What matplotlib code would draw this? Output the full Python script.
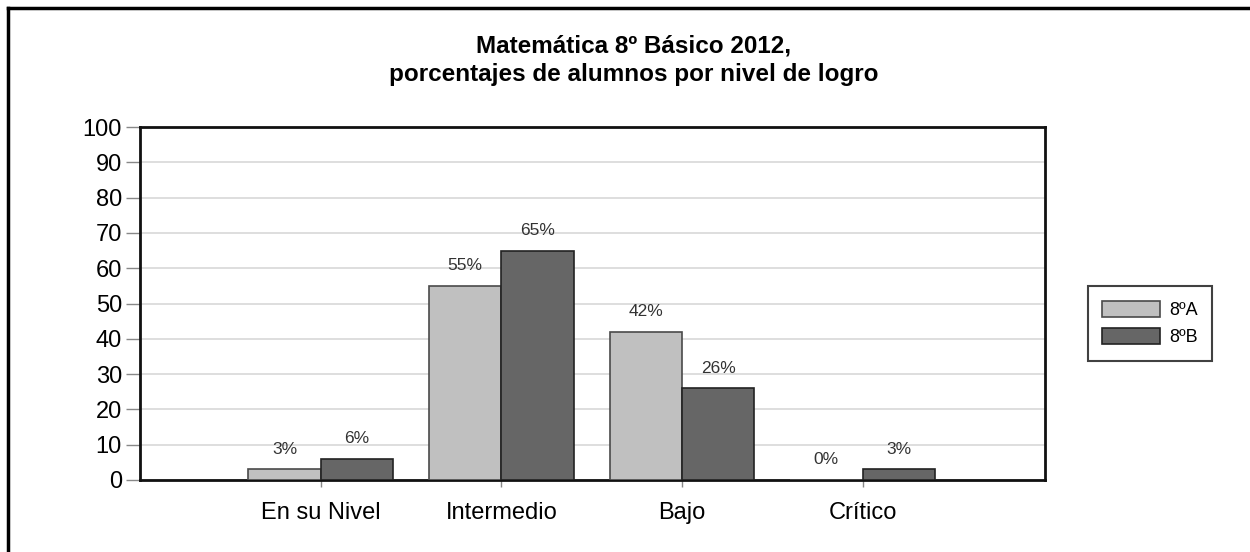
import numpy as np
import matplotlib.pyplot as plt
from matplotlib.lines import Line2D

plt.rcParams['font.family'] = ['Liberation Sans', 'DejaVu Sans']

categorias = ['En su Nivel', 'Intermedio', 'Bajo', 'Crítico']
curso_a = [3, 55, 42, 0]
curso_b = [6, 65, 26, 3]
etiquetas = ['8ºA', '8ºB']

fig = plt.figure(figsize=(12.5, 5.52), dpi=100)
ax = fig.add_axes([140/1250, 1 - 480/552, 905/1250, 353/552])

x = np.arange(len(categorias))
w = 0.4
b1 = ax.bar(x - w/2, curso_a, w, color='#c0c0c0', edgecolor='#4a4a4a', linewidth=1.2, label=etiquetas[0], zorder=3)
b2 = ax.bar(x + w/2, curso_b, w, color='#666666', edgecolor='#222222', linewidth=1.2, label=etiquetas[1], zorder=3)

# etiquetas de porcentaje sobre cada barra
for bars, vals in ((b1, curso_a), (b2, curso_b)):
    for r, v in zip(bars, vals):
        ax.annotate(f'{v}%', (r.get_x() + r.get_width()/2, v), xytext=(0, 9),
                    textcoords='offset points', ha='center', va='bottom',
                    fontsize=12.5, color='#333333')

ax.set_xlim(-1, 4.01)
ax.set_ylim(0, 100)
ax.set_yticks(range(0, 101, 10))
ax.set_xticks(x)
ax.set_xticklabels(categorias, fontsize=17)
ax.tick_params(axis='y', labelsize=17, length=10, width=1, color='#888888', pad=3)
ax.tick_params(axis='x', length=5, width=1, color='#888888', pad=11)
ax.yaxis.grid(True, color='#d8d8d8', linewidth=1.2, zorder=0)
ax.set_axisbelow(True)
for s in ax.spines.values():
    s.set_linewidth(2)
    s.set_color('#111111')

leg = ax.legend(loc='center left', bbox_to_anchor=(1.047, 0.443), fontsize=13, frameon=True,
                fancybox=False, edgecolor='#111111', handlelength=3.2, handleheight=1.0,
                borderpad=0.8, labelspacing=0.5, handletextpad=0.5, borderaxespad=0)
leg.get_frame().set_linewidth(1.5)

fig.text(0.507, 1 - 60/552, 'Matemática 8º Básico 2012,\nporcentajes de alumnos por nivel de logro',
         ha='center', va='center', fontsize=17.5, fontweight='bold', linespacing=1.3)

# marco exterior (solo borde superior e izquierdo visibles)
fig.add_artist(Line2D([8/1250, 1], [1 - 8/552, 1 - 8/552], color='black', linewidth=2.5))
fig.add_artist(Line2D([8/1250, 8/1250], [0, 1 - 8/552], color='black', linewidth=2.5))

fig.savefig('out.png', dpi=100)
